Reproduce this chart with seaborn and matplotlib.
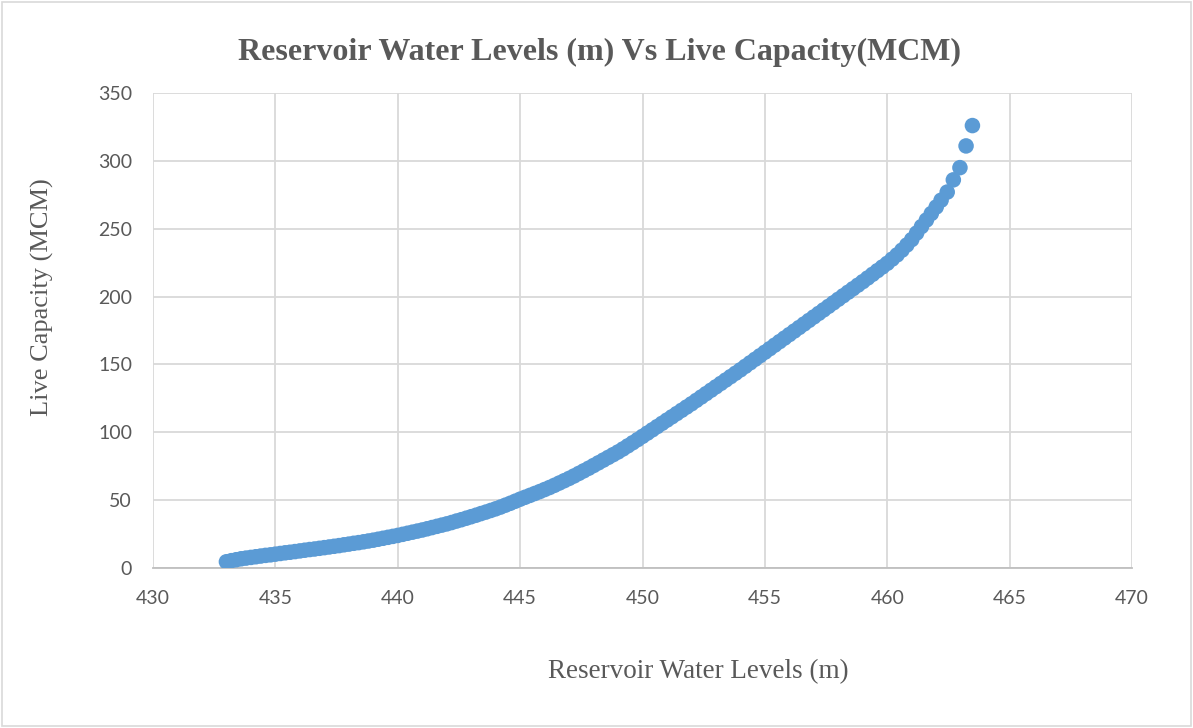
import matplotlib
matplotlib.use("Agg")
import matplotlib.pyplot as plt
from matplotlib.patches import Rectangle
import pandas as pd
import seaborn as sns

# Stage-capacity table: reservoir water level (m) and live capacity (MCM)
water_level = [
    433.0, 433.2, 433.4, 433.6, 433.8, 434.0, 434.2, 434.4, 434.6, 434.8,
    435.0, 435.2, 435.4, 435.6, 435.8, 436.0, 436.2, 436.4, 436.6, 436.8,
    437.0, 437.2, 437.4, 437.6, 437.8, 438.0, 438.2, 438.4, 438.6, 438.8,
    439.0, 439.2, 439.4, 439.6, 439.8, 440.0, 440.2, 440.4, 440.6, 440.8,
    441.0, 441.2, 441.4, 441.6, 441.8, 442.0, 442.2, 442.4, 442.6, 442.8,
    443.0, 443.2, 443.4, 443.6, 443.8, 444.0, 444.2, 444.4, 444.6, 444.8,
    445.0, 445.2, 445.4, 445.6, 445.8, 446.0, 446.2, 446.4, 446.6, 446.8,
    447.0, 447.2, 447.4, 447.6, 447.8, 448.0, 448.2, 448.4, 448.6, 448.8,
    449.0, 449.2, 449.4, 449.6, 449.8, 450.0, 450.2, 450.4, 450.6, 450.8,
    451.0, 451.2, 451.4, 451.6, 451.8, 452.0, 452.2, 452.4, 452.6, 452.8,
    453.0, 453.2, 453.4, 453.6, 453.8, 454.0, 454.2, 454.4, 454.6, 454.8,
    455.0, 455.2, 455.4, 455.6, 455.8, 456.0, 456.2, 456.4, 456.6, 456.8,
    457.0, 457.2, 457.4, 457.6, 457.8, 458.0, 458.2, 458.4, 458.6, 458.8,
    459.0, 459.2, 459.4, 459.6, 459.8, 460.0, 460.2, 460.4, 460.6, 460.8,
    461.0, 461.2, 461.4, 461.6, 461.8, 462.0, 462.2,
    462.45, 462.7, 462.97, 463.22, 463.48,
]
live_capacity = [
    4.6, 5.4, 6.1, 6.8, 7.3, 7.8, 8.3, 8.8, 9.3, 9.7,
    10.2, 10.7, 11.2, 11.6, 12.1, 12.6, 13.1, 13.6, 14.0, 14.5,
    15.0, 15.5, 16.0, 16.5, 17.1, 17.6, 18.2, 18.7, 19.3, 19.9,
    20.5, 21.2, 21.9, 22.6, 23.3, 24.0, 24.8, 25.6, 26.4, 27.2,
    28.0, 28.9, 29.8, 30.7, 31.6, 32.5, 33.5, 34.6, 35.6, 36.7,
    37.8, 38.9, 40.1, 41.2, 42.4, 43.6, 44.9, 46.3, 47.7, 49.2,
    50.7, 52.1, 53.5, 54.9, 56.3, 57.8, 59.3, 60.9, 62.6, 64.3,
    66.0, 67.8, 69.7, 71.6, 73.5, 75.5, 77.5, 79.5, 81.5, 83.5,
    85.5, 87.7, 90.0, 92.3, 94.6, 97.0, 99.4, 101.8, 104.2, 106.6,
    109.0, 111.4, 113.8, 116.2, 118.6, 121.0, 123.5, 126.0, 128.5, 131.0,
    133.5, 136.0, 138.5, 141.0, 143.5, 146.0, 148.6, 151.2, 153.8, 156.4,
    159.0, 161.6, 164.2, 166.8, 169.4, 172.0, 174.6, 177.2, 179.8, 182.4,
    185.0, 187.6, 190.2, 192.8, 195.4, 198.0, 200.6, 203.2, 205.8, 208.4,
    211.0, 213.7, 216.4, 219.1, 221.8, 224.5, 227.6, 230.7, 234.2, 238.0,
    242.0, 246.8, 251.6, 256.4, 261.2, 266.0, 271.0,
    277.0, 286.0, 295.0, 311.0, 326.0,
]

x_ticks = [430, 435, 440, 445, 450, 455, 460, 465, 470]
y_ticks = [0, 50, 100, 150, 200, 250, 300, 350]

title_text = "Reservoir Water Levels (m) Vs Live Capacity(MCM)"
x_label = "Reservoir Water Levels (m)"
y_label = "Live Capacity (MCM)"

df = pd.DataFrame({"level": water_level, "capacity": live_capacity})

sns.set_theme(style="white")
plt.rcParams["font.family"] = ["Lato", "DejaVu Sans"]

TEXT_GREY = "#595959"
GRID_GREY = "#d9d9d9"
DOT_BLUE = "#5b9bd5"

fig = plt.figure(figsize=(11.93, 7.28), dpi=100)
ax = fig.add_axes([153 / 1193, 1 - 568 / 728, (1132 - 153) / 1193, (568 - 93) / 728])

sns.scatterplot(data=df, x="level", y="capacity", ax=ax, color=DOT_BLUE,
                s=125, edgecolor="none", linewidth=0, zorder=3)

ax.set_xlim(x_ticks[0], x_ticks[-1])
ax.set_ylim(y_ticks[0], y_ticks[-1])
ax.set_xticks(x_ticks)
ax.set_yticks(y_ticks)
ax.grid(True, color=GRID_GREY, linewidth=1.3, zorder=0)
ax.set_axisbelow(True)
for side in ["left", "right", "top"]:
    ax.spines[side].set_visible(False)
ax.spines["bottom"].set_color("#bfbfbf")
ax.spines["bottom"].set_linewidth(1.3)
ax.tick_params(axis="both", length=0, labelsize=14, labelcolor=TEXT_GREY)
ax.tick_params(axis="x", pad=16)
ax.tick_params(axis="y", pad=15)
ax.set_xlabel("")
ax.set_ylabel("")

serif = ["Liberation Serif", "DejaVu Serif"]
fig.text(599 / 1193, 1 - 52 / 728, title_text, ha="center", va="center",
         fontsize=23, fontweight="bold", color=TEXT_GREY, family=serif)
fig.text(698 / 1193, 1 - 672 / 728, x_label, ha="center", va="center",
         fontsize=19.5, color=TEXT_GREY, family=serif)
fig.text(42 / 1193, 1 - 297 / 728, y_label, ha="center", va="center",
         rotation=90, fontsize=19, color=TEXT_GREY, family=serif)

# Light frame round the whole chart area
fig.patches.append(Rectangle((2 / 1193, 2 / 728), 1 - 4 / 1193, 1 - 4 / 728,
                             transform=fig.transFigure, fill=False,
                             edgecolor="#d9d9d9", linewidth=1.2))

fig.savefig("out.png", dpi=100, facecolor="white")
